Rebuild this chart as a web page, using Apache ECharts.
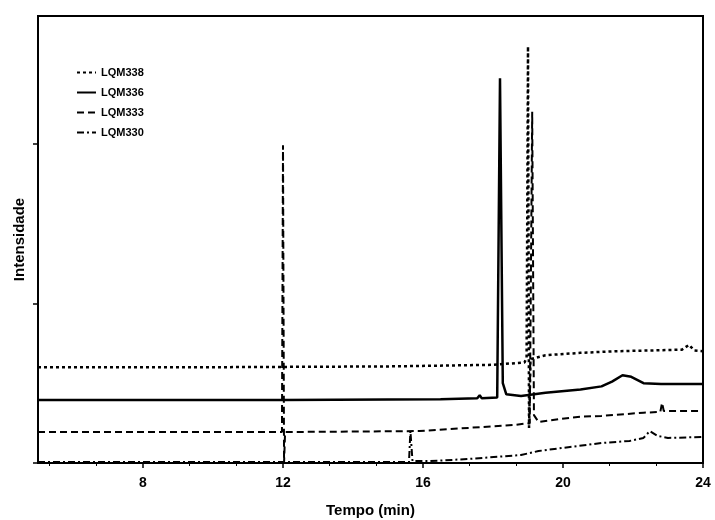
<!DOCTYPE html>
<html lang="pt">

<head>
    <meta charset="UTF-8">
    <script src="https://cdn.jsdelivr.net/npm/echarts@6/dist/echarts.min.js"></script>
    <title>Cromatogramas</title>
    <style>
        body { margin: 0; background: #fff; }
        #chart { width: 715px; height: 520px; }
    </style>
</head>

<body>
    <div id="chart"></div>

    <script>
        // [tempo (min), intensidade]
        const lqm338 = [[5, 0.6], [10, 0.6], [15, 0.605], [18, 0.615], [18.9, 0.63], [18.96, 0.66], [19.0, 2.61],
            [19.03, 0.22], [19.07, 0.65], [19.5, 0.675], [20.5, 0.69], [21.5, 0.7], [22.5, 0.705],
            [23.4, 0.71], [23.6, 0.74], [23.75, 0.705], [24, 0.7]];
        const lqm336 = [[5, 0.395], [12, 0.395], [16.5, 0.4], [17.55, 0.405], [17.62, 0.425], [17.68, 0.405],
            [18.12, 0.41], [18.2, 2.41], [18.28, 0.5], [18.38, 0.43], [18.8, 0.42], [19.5, 0.44],
            [20.5, 0.46], [21.1, 0.48], [21.4, 0.51], [21.7, 0.55], [21.95, 0.54], [22.3, 0.5],
            [22.8, 0.495], [24, 0.495]];
        const lqm333 = [[5, 0.194], [11.97, 0.194], [12.0, 1.99], [12.03, 0.0], [12.06, 0.194], [15.9, 0.2],
            [17.3, 0.22], [18.6, 0.238], [19.05, 0.25], [19.12, 2.2], [19.17, 0.3], [19.3, 0.257],
            [19.9, 0.275], [20.5, 0.29], [21.1, 0.295], [22.3, 0.315], [22.78, 0.32], [22.83, 0.376],
            [22.88, 0.326], [24, 0.326]];
        const lqm330 = [[5, 0.006], [15.6, 0.006], [15.64, 0.2], [15.7, 0.012], [16.2, 0.012], [17.3, 0.025],
            [18.8, 0.05], [19.3, 0.075], [20.2, 0.1], [21.1, 0.125], [21.9, 0.138], [22.3, 0.157],
            [22.48, 0.2], [22.7, 0.17], [23.0, 0.157], [24, 0.163]];

        const nomes = ['LQM338', 'LQM336', 'LQM333', 'LQM330'];
        const xTicks = [8, 12, 16, 20, 24];
        const xMinorTicks = [16 / 3, 20 / 3, 28 / 3, 32 / 3, 40 / 3, 44 / 3, 52 / 3, 56 / 3, 64 / 3, 68 / 3];
        const yTicks = [0, 1, 2];

        const fonte = 'Liberation Sans, Arial, sans-serif';
        const chart = echarts.init(document.getElementById('chart'), null, { renderer: 'canvas' });

        function serie(nome, dados, largura, tipo) {
            return {
                name: nome,
                type: 'line',
                data: dados,
                symbol: 'none',
                lineStyle: { color: '#000', width: largura, type: tipo },
                itemStyle: { color: '#000' }
            };
        }

        const eixoX = {
            type: 'value',
            min: 5, max: 24,
            position: 'bottom',
            splitLine: { show: false }
        };

        chart.setOption({
            animation: false,
            backgroundColor: '#fff',
            grid: {
                left: 38, right: 12, top: 16, bottom: 57,
                outerBoundsMode: 'none',
                show: true, borderColor: '#000', borderWidth: 2
            },
            legend: {
                data: nomes,
                orient: 'vertical',
                left: 71, top: 62,
                itemWidth: 19, itemHeight: 12, itemGap: 9,
                itemStyle: { color: 'transparent', borderWidth: 0 },
                textStyle: { fontFamily: fonte, fontWeight: 'bold', fontSize: 11, color: '#000' }
            },
            xAxis: [Object.assign({}, eixoX, {
                name: 'Tempo (min)',
                nameLocation: 'middle',
                nameGap: 40,
                nameTextStyle: { fontFamily: fonte, fontWeight: 'bold', fontSize: 15, color: '#000' },
                axisLine: { lineStyle: { color: '#000', width: 2 } },
                axisTick: { inside: false, length: 5, customValues: xTicks, lineStyle: { color: '#000', width: 1.5 } },
                axisLabel: {
                    margin: 13, customValues: xTicks,
                    fontFamily: fonte, fontWeight: 'bold', fontSize: 14, color: '#000'
                }
            }), Object.assign({}, eixoX, {
                axisLine: { show: false },
                axisTick: { inside: false, length: 3, customValues: xMinorTicks, lineStyle: { color: '#000', width: 1 } },
                axisLabel: { show: false }
            })],
            yAxis: {
                type: 'value',
                min: 0, max: 2.8,
                name: 'Intensidade',
                nameLocation: 'middle',
                nameGap: 11,
                nameTextStyle: { fontFamily: fonte, fontWeight: 'bold', fontSize: 15, color: '#000' },
                axisLine: { show: true, lineStyle: { color: '#000', width: 2 } },
                axisTick: { show: true, inside: false, length: 5, customValues: yTicks, lineStyle: { color: '#000', width: 1.5 } },
                axisLabel: { show: false },
                splitLine: { show: false }
            },
            series: [
                serie(nomes[0], lqm338, 2.5, [3, 3]),
                serie(nomes[1], lqm336, 2.5, 'solid'),
                serie(nomes[2], lqm333, 2, [7, 4]),
                serie(nomes[3], lqm330, 2, [7, 3, 2, 3])
            ]
        });
    </script>
</body>

</html>
